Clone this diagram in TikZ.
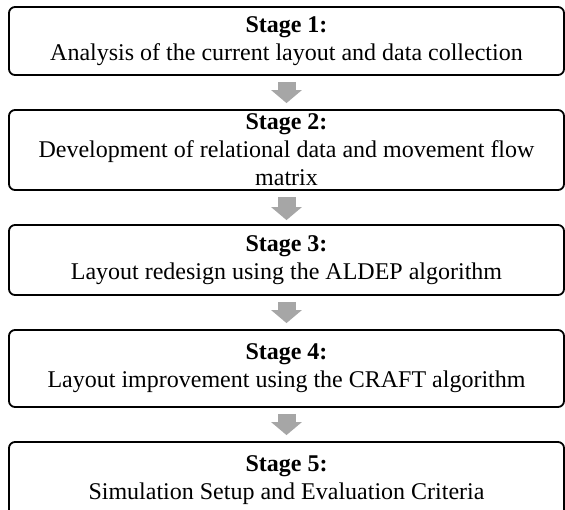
\documentclass[tikz,border=0pt]{standalone}
\usepackage{fontspec}
\setmainfont{Liberation Serif}
\usetikzlibrary{arrows.meta,positioning}

\begin{document}
\begin{tikzpicture}[x=1pt, y=-1pt,
  stagebox/.style={draw, line width=1.8pt, rounded corners=6pt,
    minimum width=555pt, inner sep=0pt, align=center,
    font=\fontsize{24}{28}\selectfont},
  flowarrow/.style={line width=18pt, draw=black!35,
    -{Triangle[length=13pt,width=30pt]}}]
  \useasboundingbox (0,0) rectangle (565,509);
  % Stages
  \node[stagebox, minimum height=68pt] (s1) at (286.5,41)
    {\textbf{Stage 1:}\\Analysis of the current layout and data collection};
  \node[stagebox, minimum height=80pt] (s2) at (286.5,150)
    {\textbf{Stage 2:}\\Development of relational data and movement flow\\matrix};
  \node[stagebox, minimum height=70pt] (s3) at (286.5,260)
    {\textbf{Stage 3:}\\Layout redesign using the ALDEP algorithm};
  \node[stagebox, minimum height=77pt] (s4) at (286.5,368.5)
    {\textbf{Stage 4:}\\Layout improvement using the CRAFT algorithm};
  \node[stagebox, minimum height=76pt] (s5) at (286.5,480)
    {\textbf{Stage 5:}\\Simulation Setup and Evaluation Criteria};
  % Arrows
  \draw[flowarrow] ([yshift=-6pt]s1.south) -- ([yshift=6pt]s2.north);
  \draw[flowarrow] ([yshift=-6pt]s2.south) -- ([yshift=4pt]s3.north);
  \draw[flowarrow] ([yshift=-6pt]s3.south) -- ([yshift=6pt]s4.north);
  \draw[flowarrow] ([yshift=-6pt]s4.south) -- ([yshift=6pt]s5.north);
\end{tikzpicture}
\end{document}
